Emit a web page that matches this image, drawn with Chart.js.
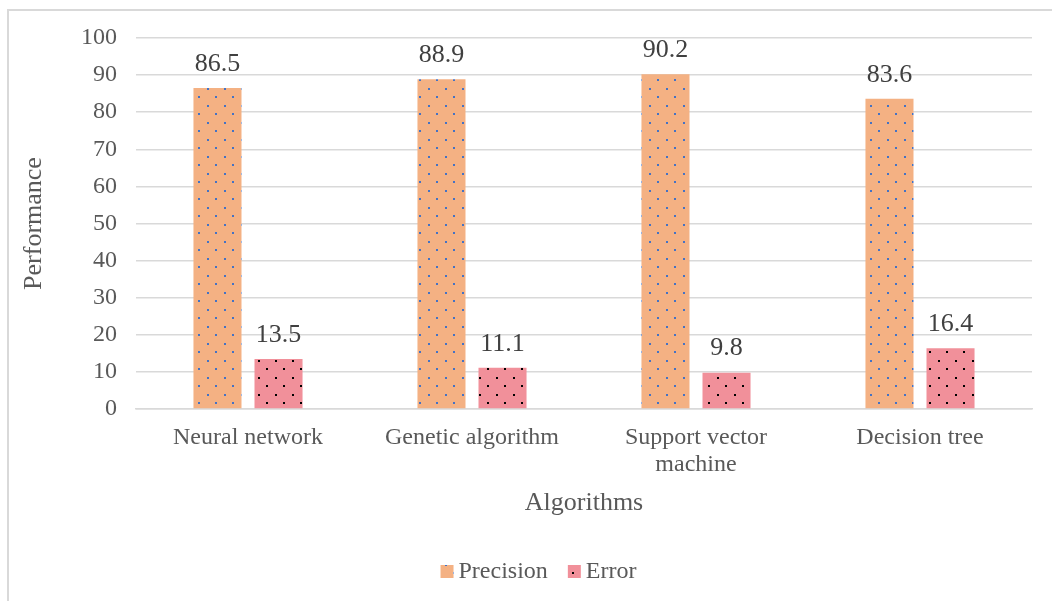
<!DOCTYPE html>
<html><head><meta charset="utf-8">
<script src="https://cdn.jsdelivr.net/npm/chart.js@4/dist/chart.umd.min.js"></script>
<style>
html,body{margin:0;padding:0;background:#fff;width:1052px;height:601px;overflow:hidden;}
#frame{position:absolute;left:7px;top:9px;width:1100px;height:700px;border-left:2px solid #d9d9d9;border-top:2px solid #d9d9d9;}
#wrap{position:absolute;left:0;top:0;width:1052px;height:601px;}
</style></head>
<body>
<div id="frame"></div>
<div id="wrap"><canvas id="c" width="1052" height="601"></canvas></div>
<script>
const categories = ["Neural network", "Genetic algorithm", ["Support vector", "machine"], "Decision tree"];
const precision = [86.5, 88.9, 90.2, 83.6];
const errorVals = [13.5, 11.1, 9.8, 16.4];
const yTicks = [0,10,20,30,40,50,60,70,80,90,100];

function dotPattern(bg, dot){
  const t = document.createElement('canvas');
  t.width = 17; t.height = 17;
  const g = t.getContext('2d');
  g.fillStyle = bg; g.fillRect(0,0,17,17);
  g.fillStyle = dot;
  g.fillRect(3,3,2,2);
  g.fillRect(11,11,2,2);
  return g.createPattern(t,'repeat');
}
const ctx = document.getElementById('c').getContext('2d');
const pPrec = dotPattern('#F4B183', '#4472C4');
const pErr = dotPattern('#F1909A', '#000000');

const serif = '"Liberation Serif", "Times New Roman", serif';
const valueLabels = {
  id:'valueLabels',
  afterDatasetsDraw(chart){
    const c = chart.ctx;
    c.save();
    c.font = '26px ' + serif;
    c.fillStyle = '#404040';
    c.textAlign = 'center';
    c.textBaseline = 'bottom';
    chart.data.datasets.forEach((ds,i)=>{
      chart.getDatasetMeta(i).data.forEach((bar,j)=>{
        c.fillText(ds.data[j].toFixed(1), bar.x, bar.y - 11);
      });
    });
    c.restore();
  }
};

const customLegend = {
  id:'customLegend',
  afterDraw(chart){
    const c = chart.ctx;
    c.save();
    c.font = '24px ' + serif;
    c.textBaseline = 'middle';
    c.textAlign = 'left';
    const box = 13, gapText = 5, gapItem = 20, cy = 572;
    const items = chart.data.datasets.map(ds => ({label: ds.label, fill: ds.backgroundColor, w: c.measureText(ds.label).width}));
    const total = items.reduce((s,it)=>s + box + gapText + it.w, 0) + gapItem*(items.length-1);
    let x = 538.5 - total/2;
    items.forEach(it=>{
      c.fillStyle = it.fill;
      c.fillRect(x, cy - 7, box, box);
      x += box + gapText;
      c.fillStyle = '#595959';
      c.fillText(it.label, x, cy);
      x += it.w + gapItem;
    });
    c.restore();
  }
};

new Chart(ctx, {
  type:'bar',
  data:{
    labels: categories,
    datasets:[
      {label:'Precision', data:precision, backgroundColor:pPrec, borderWidth:0},
      {label:'Error', data:errorVals, backgroundColor:pErr, borderWidth:0}
    ]
  },
  options:{
    responsive:false,
    animation:false,
    events:[],
    categoryPercentage:0.545,
    barPercentage:0.787,
    layout:{padding:{top:38,right:20,left:0,bottom:52}},
    scales:{
      x:{
        grid:{display:false, drawTicks:false},
        border:{display:true,color:'#d9d9d9',width:1.5},
        ticks:{color:'#595959',font:{family:serif,size:24,lineHeight:1.125},padding:15,maxRotation:0,autoSkip:false},
        title:{display:true,text:'Algorithms',color:'#595959',font:{family:serif,size:26},padding:{top:0,bottom:30}},
        afterFit(s){ s.height = 140; }
      },
      y:{
        min:0,max:100,
        afterBuildTicks(s){ s.ticks = yTicks.map(v=>({value:v})); },
        grid:{color:'#d9d9d9',lineWidth:1.5,drawTicks:false},
        border:{display:false},
        ticks:{color:'#595959',font:{family:serif,size:24},padding:19},
        title:{display:true,text:'Performance',color:'#595959',font:{family:serif,size:26},padding:{top:19,bottom:0}},
        afterFit(s){ s.width = 136; }
      }
    },
    plugins:{
      legend:{display:false},
      tooltip:{enabled:false}
    }
  },
  plugins:[valueLabels, customLegend]
});
</script>
</body></html>
